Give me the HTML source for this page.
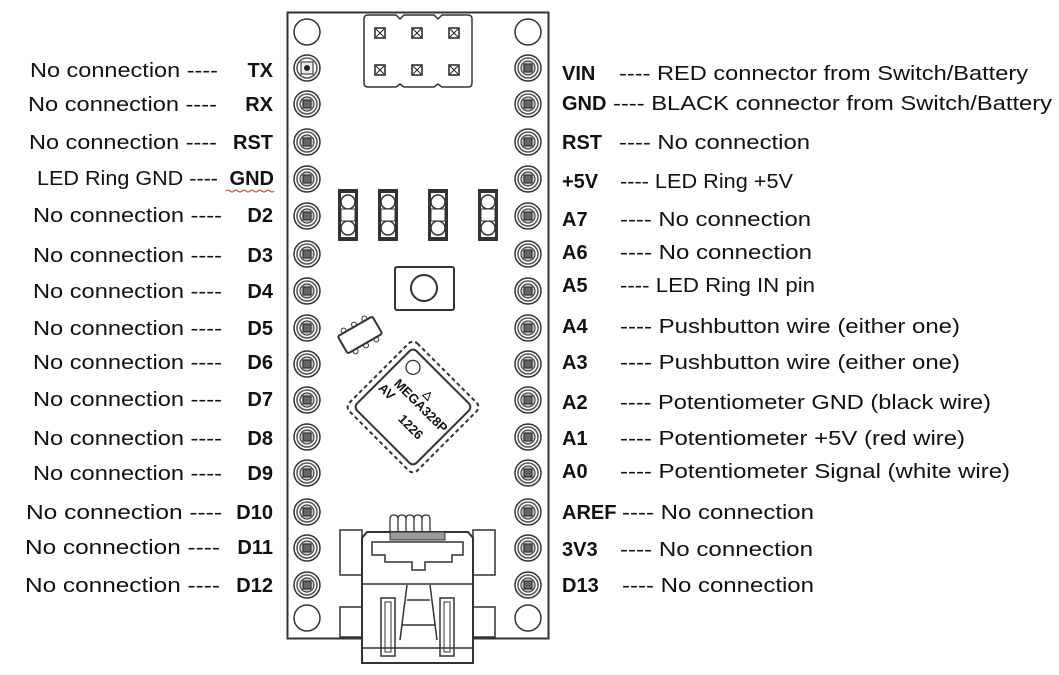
<!DOCTYPE html>
<html><head><meta charset="utf-8"><style>
html,body{margin:0;padding:0;background:#fff;}
svg{display:block}
text{font-family:"Liberation Sans",sans-serif;font-size:20px;fill:#111}
.b{font-weight:bold}
</style></head><body>
<svg width="1059" height="675" viewBox="0 0 1059 675" xmlns="http://www.w3.org/2000/svg">
<defs>
<g id="pin">
<circle r="13" fill="#fff" stroke="#333" stroke-width="1.5"/>
<circle r="10" fill="#fff" stroke="#555" stroke-width="1.5"/>
<circle r="7" fill="#ccc" stroke="#444" stroke-width="1.2"/>
<rect x="-4" y="-4" width="8" height="8" fill="#666" stroke="#222" stroke-width="1"/>
</g>
<g id="sq"><rect x="-5" y="-5" width="10" height="10" fill="#fff" stroke="#222" stroke-width="1.5"/><path d="M-4-4L4 4M4-4L-4 4" stroke="#222" stroke-width="1"/></g>
<g id="led"><rect x="-10" y="-26" width="20" height="52" fill="#333"/><rect x="-7" y="-22" width="14" height="44" fill="#fff"/><circle cy="-13" r="7" fill="#fff" stroke="#333" stroke-width="1.5"/><circle cy="13" r="7" fill="#fff" stroke="#333" stroke-width="1.5"/><rect x="-7" y="-6" width="14" height="12" fill="#fff" stroke="#333" stroke-width="1"/></g>
</defs>
<!-- board -->
<rect x="287.5" y="12.5" width="261" height="626" fill="#fff" stroke="#333" stroke-width="2"/>
<circle cx="307" cy="32" r="13" fill="#fff" stroke="#333" stroke-width="1.5"/>
<circle cx="528" cy="32" r="13" fill="#fff" stroke="#333" stroke-width="1.5"/>
<circle cx="307" cy="618" r="13" fill="#fff" stroke="#333" stroke-width="1.5"/>
<circle cx="528" cy="618" r="13" fill="#fff" stroke="#333" stroke-width="1.5"/>
<!-- header -->
<path d="M368 15 H396 l4 4 4-4 H434 l4 4 4-4 H468 q4 0 4 4 V83 q0 4-4 4 H442 l-4-3-4 3 H404 l-4-3-4 3 H368 q-4 0-4-4 V19 q0-4 4-4z" fill="#fff" stroke="#333" stroke-width="1.5"/>
<use href="#sq" x="380" y="33"/><use href="#sq" x="417" y="33"/><use href="#sq" x="454" y="33"/>
<use href="#sq" x="380" y="70"/><use href="#sq" x="417" y="70"/><use href="#sq" x="454" y="70"/>
<!-- pins -->
<g>
<circle cx="307" cy="68" r="13" fill="#fff" stroke="#333" stroke-width="1.5"/><circle cx="307" cy="68" r="10" fill="#fff" stroke="#555" stroke-width="1.5"/><rect x="301" y="62" width="12" height="12" fill="#eee" stroke="#222"/><circle cx="307" cy="68" r="3" fill="#222"/>
<use href="#pin" x="307" y="104"/><use href="#pin" x="307" y="142"/><use href="#pin" x="307" y="179"/><use href="#pin" x="307" y="216"/><use href="#pin" x="307" y="254"/><use href="#pin" x="307" y="291"/><use href="#pin" x="307" y="328"/><use href="#pin" x="307" y="364"/><use href="#pin" x="307" y="400"/><use href="#pin" x="307" y="437"/><use href="#pin" x="307" y="473"/><use href="#pin" x="307" y="512"/><use href="#pin" x="307" y="548"/><use href="#pin" x="307" y="585"/>
<use href="#pin" x="528" y="68"/><use href="#pin" x="528" y="104"/><use href="#pin" x="528" y="142"/><use href="#pin" x="528" y="179"/><use href="#pin" x="528" y="216"/><use href="#pin" x="528" y="254"/><use href="#pin" x="528" y="291"/><use href="#pin" x="528" y="328"/><use href="#pin" x="528" y="364"/><use href="#pin" x="528" y="400"/><use href="#pin" x="528" y="437"/><use href="#pin" x="528" y="473"/><use href="#pin" x="528" y="512"/><use href="#pin" x="528" y="548"/><use href="#pin" x="528" y="585"/>
</g>
<!-- LEDs -->
<use href="#led" x="348" y="215"/><use href="#led" x="388" y="215"/><use href="#led" x="438" y="215"/><use href="#led" x="488" y="215"/>
<!-- button -->
<rect x="395" y="267" width="59" height="43" rx="2" fill="#fff" stroke="#333" stroke-width="2"/>
<circle cx="424" cy="288" r="13" fill="#fff" stroke="#333" stroke-width="2"/>
<!-- small diag chip -->
<g transform="translate(360,335) rotate(-30)"><rect x="-20" y="-10" width="40" height="20" rx="2" fill="#fff" stroke="#333" stroke-width="2"/>
<circle cx="-12" cy="-12" r="2.5" fill="none" stroke="#333"/><circle cx="0" cy="-12" r="2.5" fill="none" stroke="#333"/><circle cx="12" cy="-12" r="2.5" fill="none" stroke="#333"/><circle cx="-12" cy="12" r="2.5" fill="none" stroke="#333"/><circle cx="0" cy="12" r="2.5" fill="none" stroke="#333"/><circle cx="12" cy="12" r="2.5" fill="none" stroke="#333"/></g>
<!-- MCU -->
<g transform="translate(413,407) rotate(45)">
<rect x="-48" y="-48" width="96" height="96" rx="6" fill="#fff" stroke="#333" stroke-width="2" stroke-dasharray="4 3"/>
<rect x="-42" y="-42" width="84" height="84" rx="5" fill="#fff" stroke="#333" stroke-width="2"/>
<circle cx="-28" cy="-28" r="7" fill="#fff" stroke="#333" stroke-width="1.3"/>
</g>
<g transform="translate(413,407) rotate(45)" font-family="Liberation Sans" >
<text x="-2" y="-16" style="font-size:11px" class="b">△</text>
<text x="-30" y="-2" style="font-size:13px" class="b">MEGA328P</text>
<text x="-38" y="12" style="font-size:13px" class="b">AV</text>
<text x="-2" y="20" style="font-size:13px" class="b">1226</text>
</g>
<!-- USB -->
<rect x="340" y="530" width="22" height="45" fill="#fff" stroke="#333" stroke-width="1.5"/>
<rect x="473" y="530" width="22" height="45" fill="#fff" stroke="#333" stroke-width="1.5"/>
<rect x="340" y="607" width="22" height="30" fill="#fff" stroke="#333" stroke-width="1.5"/>
<rect x="473" y="607" width="22" height="30" fill="#fff" stroke="#333" stroke-width="1.5"/>
<path d="M390 537 v-18 q0-4 4-4 q4 0 4 4 v18 M398 537 v-18 q0-4 4-4 q4 0 4 4 v18 M406 537 v-18 q0-4 4-4 q4 0 4 4 v18 M414 537 v-18 q0-4 4-4 q4 0 4 4 v18 M422 537 v-18 q0-4 4-4 q4 0 4 4 v18" fill="none" stroke="#333" stroke-width="1.3"/>
<path d="M362 538 l5-6 H468 l5 6 V663 H362z" fill="#fff" stroke="#333" stroke-width="2"/>
<rect x="390" y="532" width="55" height="8" fill="#999" stroke="#333"/>
<path d="M372 542 H463 V555 H452 V562 H425 V570 H412 V562 H385 V555 H372z" fill="none" stroke="#333" stroke-width="1.5"/>
<line x1="362" y1="584" x2="473" y2="584" stroke="#333" stroke-width="1.5"/>
<path d="M407 585 L400 640 M430 585 L437 640 M407 600 H430 M402 625 H435" stroke="#333" stroke-width="1.5" fill="none"/>
<rect x="381" y="598" width="14" height="58" fill="#fff" stroke="#333" stroke-width="1.5"/><rect x="385" y="602" width="6" height="50" fill="none" stroke="#333"/>
<rect x="440" y="598" width="14" height="58" fill="#fff" stroke="#333" stroke-width="1.5"/><rect x="444" y="602" width="6" height="50" fill="none" stroke="#333"/>
<line x1="362" y1="648" x2="473" y2="648" stroke="#333" stroke-width="1.5"/>
<!-- left labels -->
<g>
<text x="30" y="77" textLength="188" lengthAdjust="spacingAndGlyphs">No connection ----</text><text x="273" y="77" text-anchor="end" class="b">TX</text>
<text x="28" y="111" textLength="189" lengthAdjust="spacingAndGlyphs">No connection ----</text><text x="273" y="111" text-anchor="end" class="b">RX</text>
<text x="29" y="149" textLength="188" lengthAdjust="spacingAndGlyphs">No connection ----</text><text x="273" y="149" text-anchor="end" class="b">RST</text>
<text x="37" y="185" textLength="181" lengthAdjust="spacingAndGlyphs">LED Ring GND ----</text><text x="274" y="185" text-anchor="end" class="b">GND</text>
<path d="M226 191 q2-2 4 0 t4 0 t4 0 t4 0 t4 0 t4 0 t4 0 t4 0 t4 0 t4 0 t4 0 t4 0" stroke="#c33" fill="none" stroke-width="1"/>
<text x="33" y="222" textLength="189" lengthAdjust="spacingAndGlyphs">No connection ----</text><text x="273" y="222" text-anchor="end" class="b">D2</text>
<text x="33" y="262" textLength="189" lengthAdjust="spacingAndGlyphs">No connection ----</text><text x="273" y="262" text-anchor="end" class="b">D3</text>
<text x="33" y="298" textLength="189" lengthAdjust="spacingAndGlyphs">No connection ----</text><text x="273" y="298" text-anchor="end" class="b">D4</text>
<text x="33" y="335" textLength="189" lengthAdjust="spacingAndGlyphs">No connection ----</text><text x="273" y="335" text-anchor="end" class="b">D5</text>
<text x="33" y="369" textLength="189" lengthAdjust="spacingAndGlyphs">No connection ----</text><text x="273" y="369" text-anchor="end" class="b">D6</text>
<text x="33" y="406" textLength="189" lengthAdjust="spacingAndGlyphs">No connection ----</text><text x="273" y="406" text-anchor="end" class="b">D7</text>
<text x="33" y="445" textLength="189" lengthAdjust="spacingAndGlyphs">No connection ----</text><text x="273" y="445" text-anchor="end" class="b">D8</text>
<text x="33" y="480" textLength="189" lengthAdjust="spacingAndGlyphs">No connection ----</text><text x="273" y="480" text-anchor="end" class="b">D9</text>
<text x="26" y="519" textLength="196" lengthAdjust="spacingAndGlyphs">No connection  ----</text><text x="273" y="519" text-anchor="end" class="b">D10</text>
<text x="25" y="554" textLength="195" lengthAdjust="spacingAndGlyphs">No connection  ----</text><text x="273" y="554" text-anchor="end" class="b">D11</text>
<text x="25" y="592" textLength="195" lengthAdjust="spacingAndGlyphs">No connection  ----</text><text x="273" y="592" text-anchor="end" class="b">D12</text>
</g>
<!-- right labels -->
<g>
<text x="562" y="80" class="b">VIN</text><text x="619" y="80" textLength="409" lengthAdjust="spacingAndGlyphs">---- RED connector from Switch/Battery</text>
<text x="562" y="110" class="b">GND</text><text x="613" y="110" textLength="439" lengthAdjust="spacingAndGlyphs">---- BLACK connector from Switch/Battery</text>
<text x="562" y="149" class="b">RST</text><text x="619" y="149" textLength="191" lengthAdjust="spacingAndGlyphs">---- No connection</text>
<text x="562" y="188" class="b">+5V</text><text x="620" y="188" textLength="173" lengthAdjust="spacingAndGlyphs">---- LED Ring +5V</text>
<text x="562" y="226" class="b">A7</text><text x="620" y="226" textLength="191" lengthAdjust="spacingAndGlyphs">---- No connection</text>
<text x="562" y="259" class="b">A6</text><text x="620" y="259" textLength="192" lengthAdjust="spacingAndGlyphs">---- No connection</text>
<text x="562" y="292" class="b">A5</text><text x="620" y="292" textLength="195" lengthAdjust="spacingAndGlyphs">---- LED Ring IN pin</text>
<text x="562" y="333" class="b">A4</text><text x="620" y="333" textLength="340" lengthAdjust="spacingAndGlyphs">---- Pushbutton wire (either one)</text>
<text x="562" y="369" class="b">A3</text><text x="620" y="369" textLength="340" lengthAdjust="spacingAndGlyphs">---- Pushbutton wire (either one)</text>
<text x="562" y="409" class="b">A2</text><text x="620" y="409" textLength="371" lengthAdjust="spacingAndGlyphs">---- Potentiometer GND (black wire)</text>
<text x="562" y="445" class="b">A1</text><text x="620" y="445" textLength="345" lengthAdjust="spacingAndGlyphs">---- Potentiometer +5V (red wire)</text>
<text x="562" y="478" class="b">A0</text><text x="620" y="478" textLength="390" lengthAdjust="spacingAndGlyphs">---- Potentiometer Signal (white wire)</text>
<text x="562" y="519" class="b">AREF</text><text x="622" y="519" textLength="192" lengthAdjust="spacingAndGlyphs">---- No connection</text>
<text x="562" y="556" class="b">3V3</text><text x="620" y="556" textLength="193" lengthAdjust="spacingAndGlyphs">---- No connection</text>
<text x="562" y="592" class="b">D13</text><text x="622" y="592" textLength="192" lengthAdjust="spacingAndGlyphs">---- No connection</text>
</g>
</svg>
</body></html>
